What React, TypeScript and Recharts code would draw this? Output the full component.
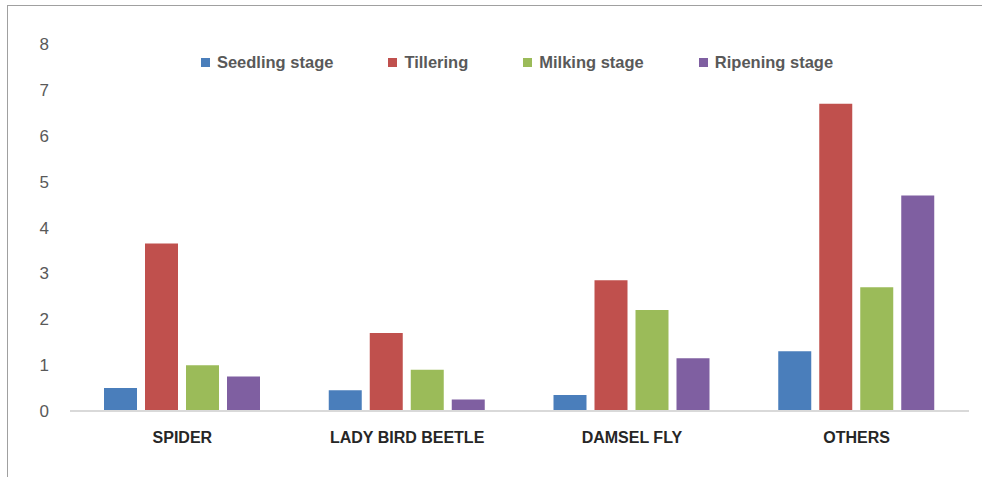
import React from "react";
import { BarChart, Bar, XAxis, YAxis } from "recharts";

const categories = ["SPIDER", "LADY BIRD BEETLE", "DAMSEL FLY", "OTHERS"];
const seedling = [0.5, 0.45, 0.35, 1.3];
const tillering = [3.65, 1.7, 2.85, 6.7];
const milking = [1.0, 0.9, 2.2, 2.7];
const ripening = [0.75, 0.25, 1.15, 4.7];
const yTicks = [0, 1, 2, 3, 4, 5, 6, 7, 8];

const seriesNames = ["Seedling stage", "Tillering", "Milking stage", "Ripening stage"];
const colors = ["#4a7ebb", "#c0504d", "#9bbb59", "#7f5fa1"];

const data = categories.map((c, i) => ({
  name: c,
  s0: seedling[i],
  s1: tillering[i],
  s2: milking[i],
  s3: ripening[i],
}));

const FONT = "'Liberation Sans', Arial, sans-serif";

const LegendBox = () => (
  <div
    style={{
      position: "absolute",
      top: 51,
      left: 0,
      width: 1034,
      display: "flex",
      justifyContent: "center",
      gap: 55,
      fontFamily: FONT,
      fontWeight: "bold",
      fontSize: 16.5,
      color: "#595959",
      lineHeight: "22px",
    }}
  >
    {seriesNames.map((n, i) => (
      <div key={n} style={{ display: "flex", alignItems: "center" }}>
        <span style={{ width: 9, height: 9, background: colors[i], marginRight: 7, display: "inline-block" }} />
        <span>{n}</span>
      </div>
    ))}
  </div>
);

export default function App() {
  return (
    <div style={{ position: "absolute", left: 0, top: 0, width: 982, height: 477, background: "#fff", overflow: "hidden" }}>
      <div
        style={{
          position: "absolute",
          left: 7,
          top: 5,
          width: 1000,
          height: 500,
          borderTop: "1px solid #a0a0a0",
          borderLeft: "1px solid #a0a0a0",
        }}
      />
      <BarChart
        width={982}
        height={477}
        data={data}
        margin={{ top: 44, right: 13, left: 0, bottom: 6 }}
        barSize={33}
        barGap={8}
        style={{ position: "absolute", left: 0, top: 0 }}
      >
        <XAxis
          dataKey="name"
          height={60}
          axisLine={{ stroke: "#d9d9d9", strokeWidth: 2 }}
          tickLine={false}
          tickSize={0}
          tickMargin={21}
          tick={{ fill: "#262626", fontSize: 16, fontWeight: "bold", fontFamily: FONT }}
          interval={0}
        />
        <YAxis
          width={70}
          domain={[0, 8]}
          ticks={yTicks}
          axisLine={false}
          tickLine={false}
          tickSize={0}
          tickMargin={21}
          tick={{ fill: "#595959", fontSize: 17, fontFamily: FONT }}
        />
        <Bar dataKey="s0" fill={colors[0]} isAnimationActive={false} />
        <Bar dataKey="s1" fill={colors[1]} isAnimationActive={false} />
        <Bar dataKey="s2" fill={colors[2]} isAnimationActive={false} />
        <Bar dataKey="s3" fill={colors[3]} isAnimationActive={false} />
      </BarChart>
      <LegendBox />
    </div>
  );
}
